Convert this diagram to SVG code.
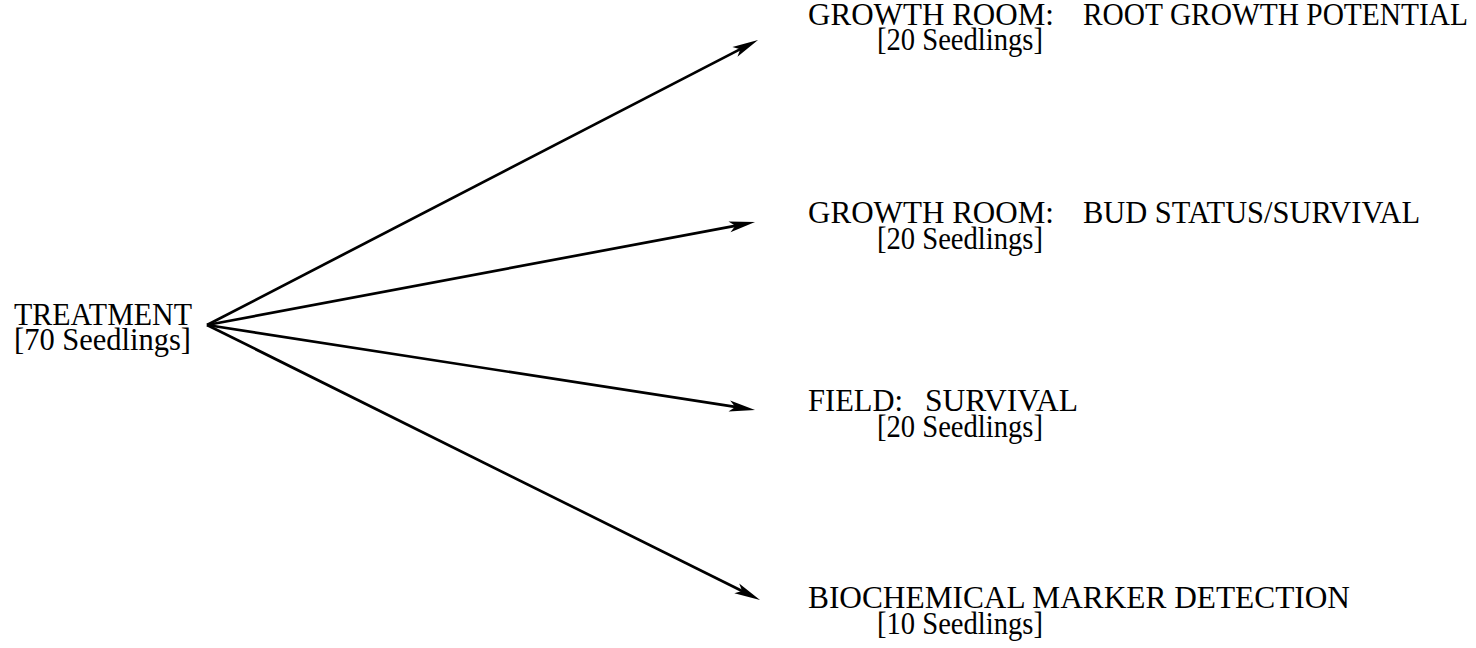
<svg xmlns="http://www.w3.org/2000/svg" width="1476" height="648" viewBox="0 0 1476 648">
<style>
  text { font-family: "Liberation Serif", "Times New Roman", serif; font-size: 32px; fill: #000; }
  .conn { stroke: #000; stroke-width: 2.7; fill: none; marker-end: url(#arrow); }
</style>
<defs>
  <marker id="arrow" markerUnits="userSpaceOnUse" markerWidth="40" markerHeight="40" refX="0" refY="0" orient="auto" overflow="visible">
    <path d="M-11,-5.5 L15,0 L-11,5.5 L-5,0 Z" fill="#000"/>
  </marker>
</defs>
<rect width="1476" height="648" fill="#fff"/>
<g id="connectors">
  <line class="conn" x1="207" y1="325" x2="744.7" y2="46.9"/>
  <line class="conn" x1="207" y1="325" x2="740.3" y2="224.8"/>
  <line class="conn" x1="207" y1="325" x2="740.2" y2="407.7"/>
  <line class="conn" x1="207" y1="325" x2="746.6" y2="593.3"/>
</g>
<g id="treatment">
  <text x="14" y="325" textLength="178" lengthAdjust="spacingAndGlyphs">TREATMENT</text>
  <text x="14" y="350" textLength="177" lengthAdjust="spacingAndGlyphs">[70 Seedlings]</text>
</g>
<g id="root-growth">
  <text x="808" y="25" textLength="246" lengthAdjust="spacingAndGlyphs">GROWTH ROOM:</text>
  <text x="1083" y="25" textLength="385" lengthAdjust="spacingAndGlyphs">ROOT GROWTH POTENTIAL</text>
  <text x="877" y="50" textLength="166" lengthAdjust="spacingAndGlyphs">[20 Seedlings]</text>
</g>
<g id="bud-status">
  <text x="808" y="223" textLength="246" lengthAdjust="spacingAndGlyphs">GROWTH ROOM:</text>
  <text x="1083" y="223" textLength="337" lengthAdjust="spacingAndGlyphs">BUD STATUS/SURVIVAL</text>
  <text x="877" y="249" textLength="166" lengthAdjust="spacingAndGlyphs">[20 Seedlings]</text>
</g>
<g id="field">
  <text x="808" y="411" textLength="95" lengthAdjust="spacingAndGlyphs">FIELD:</text>
  <text x="925" y="411" textLength="153" lengthAdjust="spacingAndGlyphs">SURVIVAL</text>
  <text x="877" y="437" textLength="166" lengthAdjust="spacingAndGlyphs">[20 Seedlings]</text>
</g>
<g id="biochemical">
  <text x="808" y="608" textLength="542" lengthAdjust="spacingAndGlyphs">BIOCHEMICAL MARKER DETECTION</text>
  <text x="877" y="634" textLength="166" lengthAdjust="spacingAndGlyphs">[10 Seedlings]</text>
</g>
</svg>
